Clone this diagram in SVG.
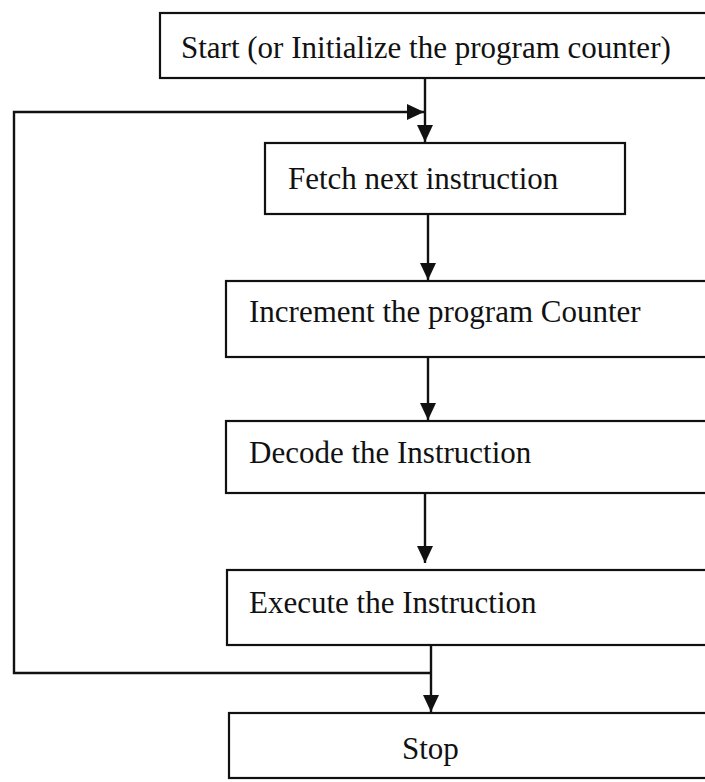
<svg xmlns="http://www.w3.org/2000/svg" width="705" height="782" viewBox="0 0 705 782">
<style>
.box{fill:#fff;stroke:#111;stroke-width:2.2}
.lbl{font-family:"Liberation Serif","Times New Roman",serif;font-size:31px;fill:#111}
.con{fill:none;stroke:#111;stroke-width:2.4}
</style>
<defs>
<marker id="ah" markerUnits="userSpaceOnUse" markerWidth="18" markerHeight="18" refX="17" refY="8" orient="auto">
<path d="M0,0 L17,8 L0,16 z" fill="#111"/>
</marker>
</defs>
<rect width="705" height="782" fill="#fff"/>
<g id="start">
<rect class="box" x="160" y="13" width="570" height="65"/>
<text class="lbl" x="181" y="58">Start (or Initialize the program counter)</text>
</g>
<g id="fetch">
<rect class="box" x="265" y="143" width="360" height="71"/>
<text class="lbl" x="288" y="189">Fetch next instruction</text>
</g>
<g id="increment">
<rect class="box" x="226" y="281" width="504" height="76"/>
<text class="lbl" x="249" y="322">Increment the program Counter</text>
</g>
<g id="decode">
<rect class="box" x="226" y="421" width="504" height="72"/>
<text class="lbl" x="249" y="463">Decode the Instruction</text>
</g>
<g id="execute">
<rect class="box" x="227" y="570" width="503" height="75"/>
<text class="lbl" x="249" y="613">Execute the Instruction</text>
</g>
<g id="stop">
<rect class="box" x="229" y="713" width="501" height="65"/>
<text class="lbl" x="402" y="759">Stop</text>
</g>
<g id="connectors">
<path class="con" d="M425,78 L425,142" marker-end="url(#ah)"/>
<path class="con" d="M428,214 L428,280" marker-end="url(#ah)"/>
<path class="con" d="M428,357 L428,420" marker-end="url(#ah)"/>
<path class="con" d="M425,493 L425,563" marker-end="url(#ah)"/>
<path class="con" d="M431,645 L431,712" marker-end="url(#ah)"/>
<path class="con" d="M431,673 L14,673 L14,112 L424,112" marker-end="url(#ah)"/>
</g>
</svg>
